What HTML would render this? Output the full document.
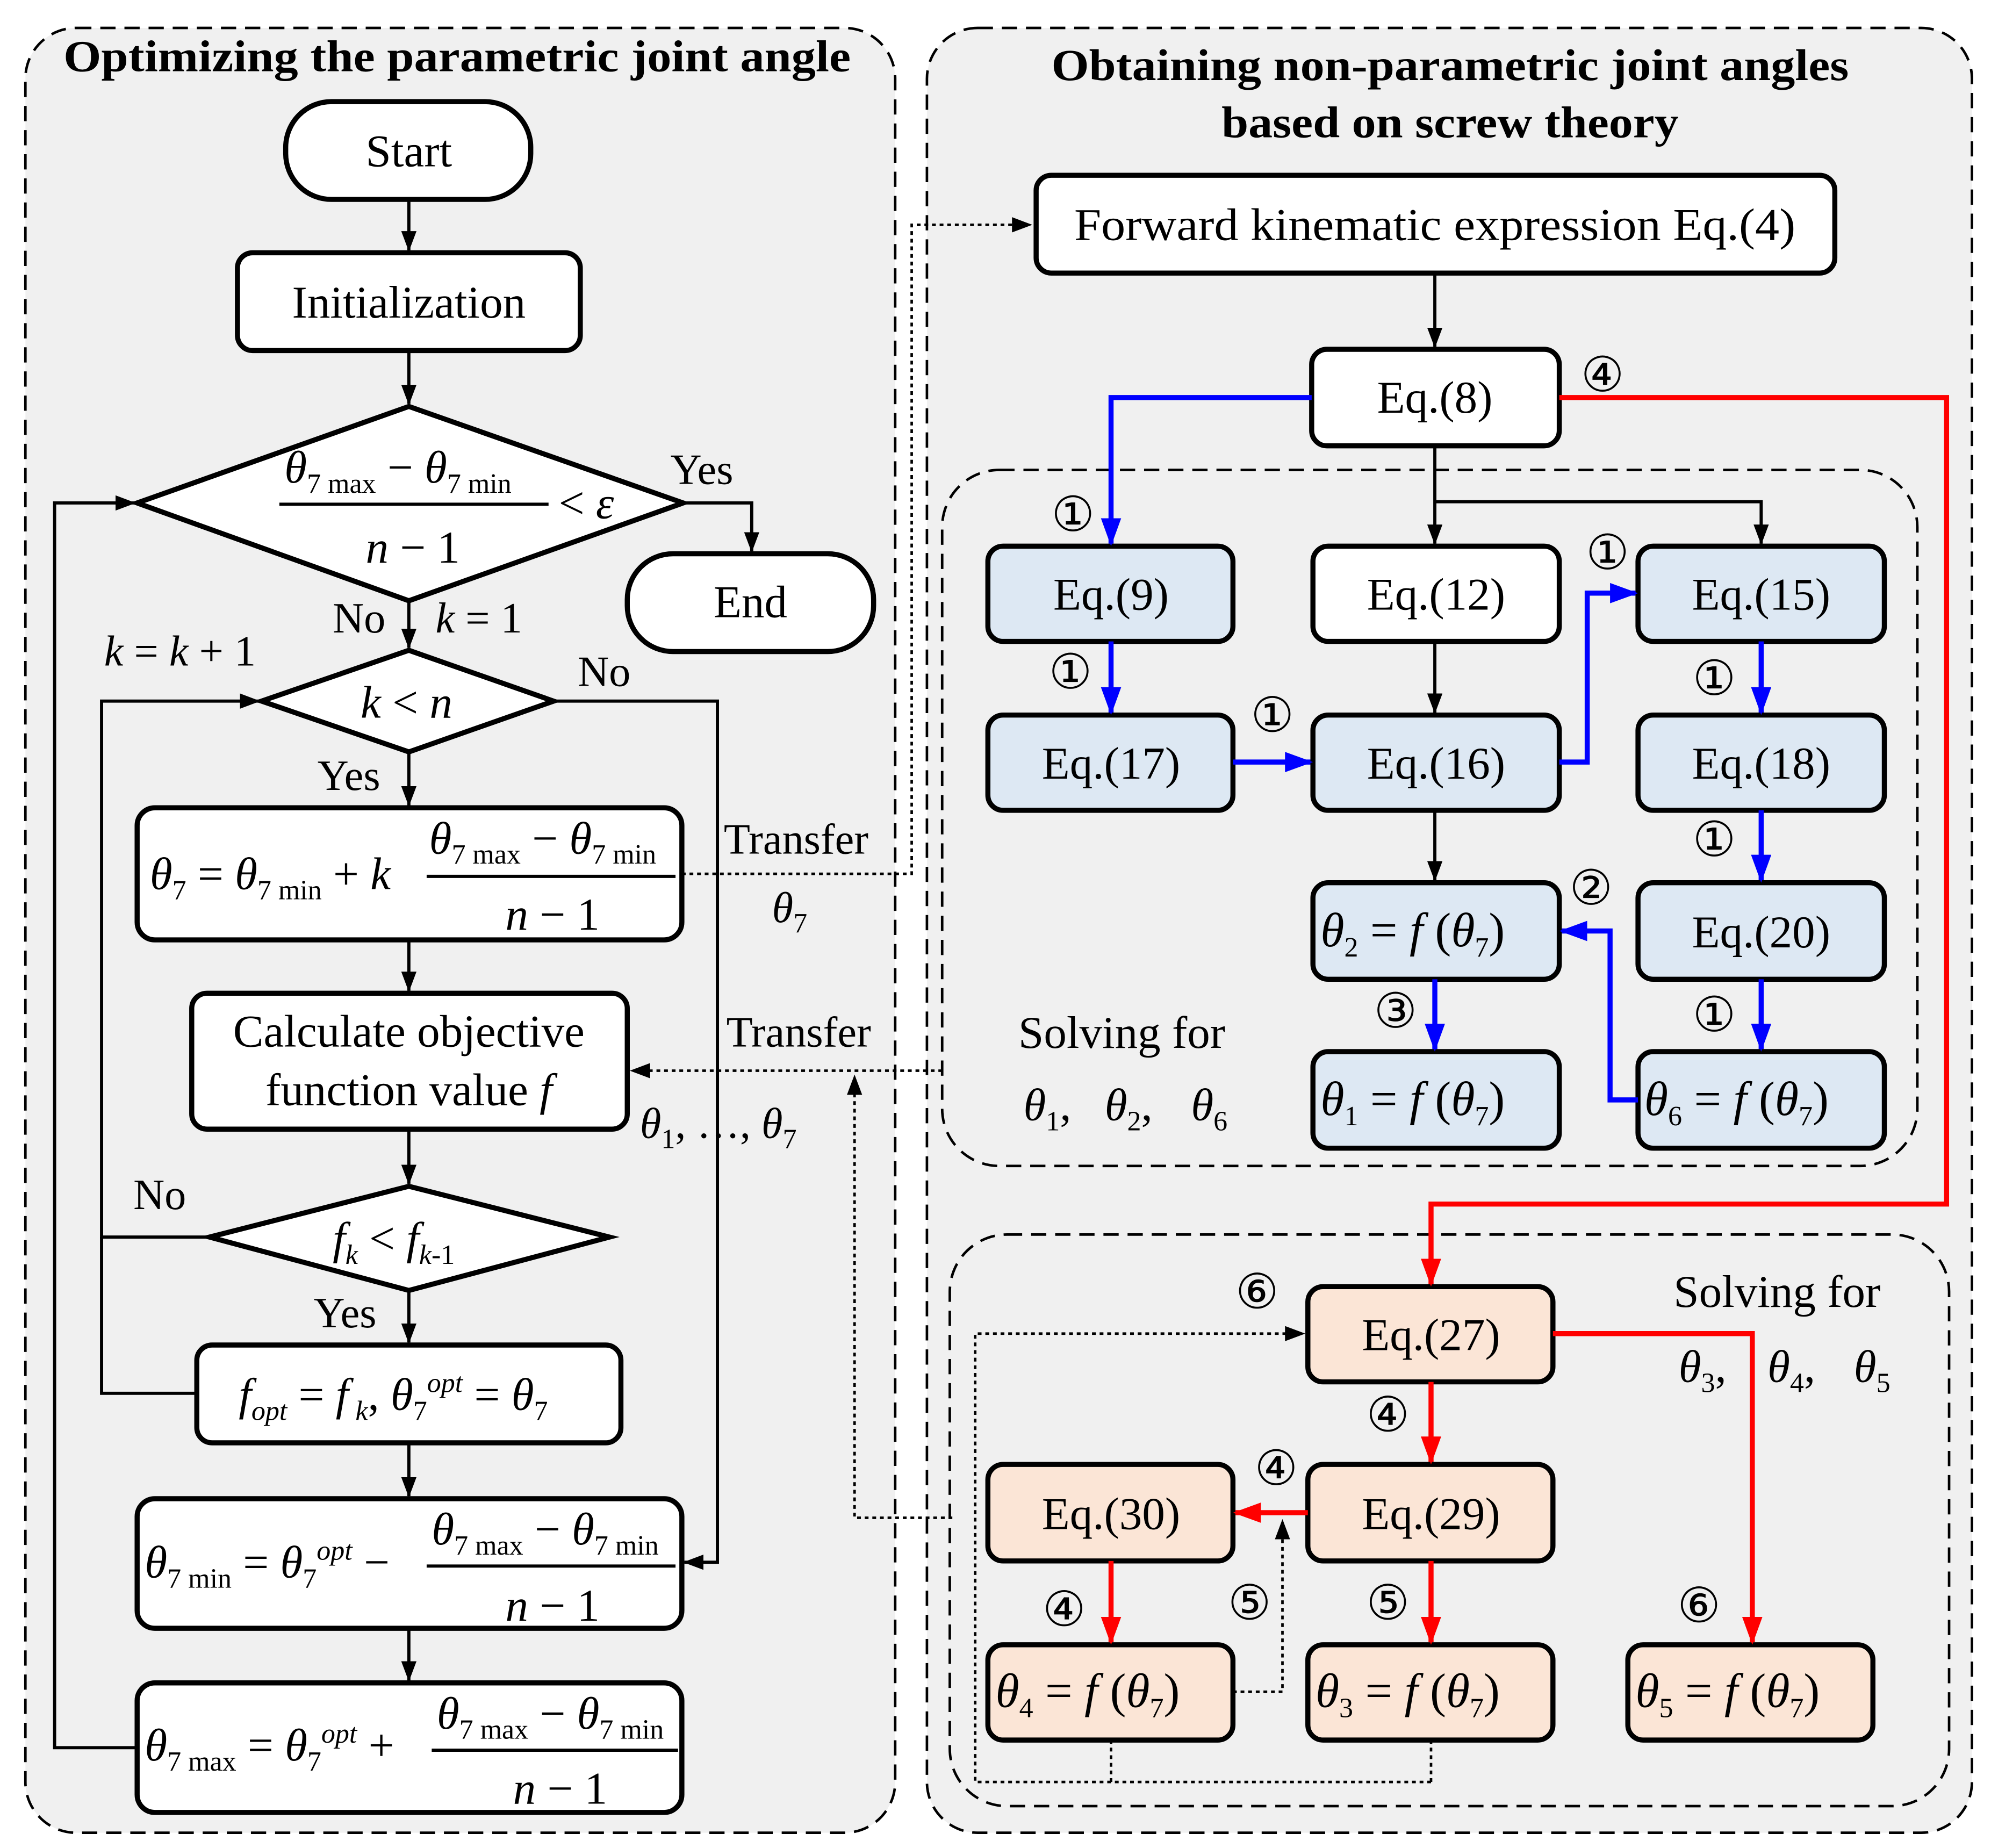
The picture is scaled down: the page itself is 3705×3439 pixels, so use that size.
<!DOCTYPE html>
<html><head><meta charset="utf-8"><style>
html,body{margin:0;padding:0;background:#fff}
svg{display:block}
text{font-family:"Liberation Serif","DejaVu Serif",serif;fill:#000}
.it{font-style:italic}
.c{font-family:"Liberation Serif","DejaVu Sans",sans-serif}
</style></head><body>
<svg width="3705" height="3439" viewBox="0 0 1568 1455" preserveAspectRatio="none" xmlns="http://www.w3.org/2000/svg">
<defs>
<marker id="ab" markerWidth="22" markerHeight="16" refX="20" refY="8" orient="auto" markerUnits="userSpaceOnUse"><path d="M0,0 L22,8 L0,16 z" fill="#00f"/></marker>
<marker id="ar" markerWidth="22" markerHeight="16" refX="20" refY="8" orient="auto" markerUnits="userSpaceOnUse"><path d="M0,0 L22,8 L0,16 z" fill="#f00"/></marker>
<marker id="a2" markerWidth="16" markerHeight="12" refX="15" refY="6" orient="auto" markerUnits="userSpaceOnUse"><path d="M0,0 L16,6 L0,12 z" fill="#000"/></marker>
</defs>
<rect width="1568" height="1455" fill="#fff"/>
<rect x="20" y="22" width="685" height="1421" rx="40" fill="#f0f0f0" stroke="#000" stroke-width="2" stroke-dasharray="12,7"/>
<rect x="730" y="22" width="823" height="1421" rx="40" fill="#f0f0f0" stroke="#000" stroke-width="2" stroke-dasharray="12,7"/>
<text x="50" y="56" font-size="35" font-weight="bold" textLength="620" lengthAdjust="spacingAndGlyphs">Optimizing the parametric joint angle</text>
<text x="828" y="63" font-size="35" font-weight="bold" textLength="628" lengthAdjust="spacingAndGlyphs">Obtaining non-parametric joint angles</text>
<text x="962" y="108" font-size="35" font-weight="bold" textLength="360" lengthAdjust="spacingAndGlyphs">based on screw theory</text>

<g stroke="#000" stroke-width="4" fill="#fff">
<rect x="225" y="80" width="193" height="77" rx="36"/>
<rect x="187" y="199" width="270" height="77" rx="12"/>
<polygon points="108,396 322,320 538,396 322,473"/>
<rect x="494" y="436" width="194" height="77" rx="36"/>
<polygon points="206,552 322,512 436,552 322,592"/>
<rect x="108" y="636" width="429" height="104" rx="14"/>
<rect x="151" y="782" width="343" height="107" rx="12"/>
<polygon points="165,974 322,934 480,974 322,1016"/>
<rect x="155" y="1059" width="334" height="77" rx="12"/>
<rect x="108" y="1180" width="429" height="102" rx="14"/>
<rect x="108" y="1325" width="429" height="102" rx="14"/>
</g>
<g font-size="36" text-anchor="middle">
<text x="322" y="131">Start</text>
<text x="322" y="250">Initialization</text>
<text x="591" y="486">End</text>
<text x="322" y="824">Calculate objective</text>
<text x="322" y="870">function value <tspan class="it">f</tspan></text>
</g>
<g font-size="36">
<text x="224" y="380" class="it">θ<tspan font-size="22" dy="8" font-style="normal">7 max</tspan><tspan dy="-8" font-style="normal"> − </tspan>θ<tspan font-size="22" dy="8" font-style="normal">7 min</tspan></text>
<line x1="220" y1="397" x2="432" y2="397" stroke="#000" stroke-width="2.5"/>
<text x="288" y="443" class="it">n<tspan font-style="normal"> − 1</tspan></text>
<text x="440" y="408" font-style="normal">&lt; <tspan class="it">ε</tspan></text>
<text x="284" y="565" class="it">k<tspan font-style="normal"> &lt; </tspan>n</text>
<text x="262" y="987" class="it">f<tspan font-size="22" dy="8">k</tspan><tspan dy="-8" font-style="normal"> &lt; </tspan>f<tspan font-size="22" dy="8">k</tspan><tspan font-size="22" font-style="normal">-1</tspan></text>
</g>
<g font-size="36">
<text x="118" y="700" class="it">θ<tspan font-size="22" dy="8" font-style="normal">7</tspan><tspan dy="-8" font-style="normal"> = </tspan>θ<tspan font-size="22" dy="8" font-style="normal">7 min</tspan><tspan dy="-8" font-style="normal"> + </tspan>k</text>
<text x="338" y="672" class="it">θ<tspan font-size="22" dy="8" font-style="normal">7 max</tspan><tspan dy="-8" font-style="normal"> − </tspan>θ<tspan font-size="22" dy="8" font-style="normal">7 min</tspan></text>
<line x1="336" y1="690" x2="532" y2="690" stroke="#000" stroke-width="2.5"/>
<text x="398" y="732" class="it">n<tspan font-style="normal"> − 1</tspan></text>

<text x="188" y="1110" class="it">f<tspan font-size="22" dy="8">opt</tspan><tspan dy="-8" font-style="normal"> = </tspan>f<tspan font-size="22" dy="8"> k</tspan><tspan dy="-8" font-style="normal">, </tspan>θ<tspan font-size="22" dy="8" font-style="normal">7</tspan><tspan font-size="22" dy="-22">opt</tspan><tspan dy="14" font-style="normal"> = </tspan>θ<tspan font-size="22" dy="8" font-style="normal">7</tspan></text>

<text x="114" y="1242" class="it">θ<tspan font-size="22" dy="8" font-style="normal">7 min</tspan><tspan dy="-8" font-style="normal"> = </tspan>θ<tspan font-size="22" dy="8" font-style="normal">7</tspan><tspan font-size="22" dy="-22">opt</tspan><tspan dy="14" font-style="normal"> − </tspan></text>
<text x="340" y="1216" class="it">θ<tspan font-size="22" dy="8" font-style="normal">7 max</tspan><tspan dy="-8" font-style="normal"> − </tspan>θ<tspan font-size="22" dy="8" font-style="normal">7 min</tspan></text>
<line x1="336" y1="1233" x2="532" y2="1233" stroke="#000" stroke-width="2.5"/>
<text x="398" y="1276" class="it">n<tspan font-style="normal"> − 1</tspan></text>

<text x="114" y="1386" class="it">θ<tspan font-size="22" dy="8" font-style="normal">7 max</tspan><tspan dy="-8" font-style="normal"> = </tspan>θ<tspan font-size="22" dy="8" font-style="normal">7</tspan><tspan font-size="22" dy="-22">opt</tspan><tspan dy="14" font-style="normal"> + </tspan></text>
<text x="344" y="1361" class="it">θ<tspan font-size="22" dy="8" font-style="normal">7 max</tspan><tspan dy="-8" font-style="normal"> − </tspan>θ<tspan font-size="22" dy="8" font-style="normal">7 min</tspan></text>
<line x1="340" y1="1378" x2="534" y2="1378" stroke="#000" stroke-width="2.5"/>
<text x="404" y="1420" class="it">n<tspan font-style="normal"> − 1</tspan></text>
</g>
<g font-size="34">
<text x="528" y="381">Yes</text>
<text x="262" y="498">No</text>
<text x="343" y="498" class="it">k<tspan font-style="normal"> = 1</tspan></text>
<text x="82" y="524" class="it">k<tspan font-style="normal"> = </tspan>k<tspan font-style="normal"> + 1</tspan></text>
<text x="455" y="540">No</text>
<text x="250" y="622">Yes</text>
<text x="105" y="952">No</text>
<text x="247" y="1045">Yes</text>
<text x="570" y="672">Transfer</text>
<text x="608" y="726" class="it">θ<tspan font-size="22" dy="8" font-style="normal">7</tspan></text>
<text x="572" y="824">Transfer</text>
<text x="504" y="896" class="it">θ<tspan font-size="22" dy="8" font-style="normal">1</tspan><tspan dy="-8" font-style="normal">,  …,  </tspan>θ<tspan font-size="22" dy="8" font-style="normal">7</tspan></text>
</g>
<g stroke="#000" stroke-width="2.5" fill="none" marker-end="url(#a2)">
<line x1="322" y1="157" x2="322" y2="197"/>
<line x1="322" y1="276" x2="322" y2="318"/>
<polyline points="538,396 592,396 592,434"/>
<line x1="322" y1="473" x2="322" y2="510"/>
<line x1="322" y1="592" x2="322" y2="634"/>
<polyline points="436,552 565,552 565,1230 539,1230"/>
<line x1="322" y1="740" x2="322" y2="780"/>
<line x1="322" y1="889" x2="322" y2="932"/>
<polyline points="165,974 80,974 80,552 204,552"/>
<line x1="322" y1="1016" x2="322" y2="1057"/>
<line x1="322" y1="1136" x2="322" y2="1178"/>
<line x1="322" y1="1282" x2="322" y2="1323"/>
<polyline points="108,1376 43,1376 43,396 106,396"/>
</g>
<polyline points="155,1097 80,1097 80,974" stroke="#000" stroke-width="2.5" fill="none"/>
<g stroke="#000" stroke-width="2" fill="none" stroke-dasharray="3,3">
<polyline points="537,688 718,688 718,177 812,177" marker-end="url(#a2)"/>
<line x1="742" y1="843" x2="497" y2="843" marker-end="url(#a2)"/>
<polyline points="750,1195 673,1195 673,847" marker-end="url(#a2)"/>
</g>

<rect x="742" y="370" width="768" height="548" rx="45" fill="none" stroke="#000" stroke-width="2" stroke-dasharray="12,7"/>
<rect x="748" y="972" width="787" height="450" rx="45" fill="none" stroke="#000" stroke-width="2" stroke-dasharray="12,7"/>

<g stroke="#000" stroke-width="4">
<rect x="816" y="138" width="629" height="77" rx="12" fill="#fff"/>
<rect x="1033" y="275" width="195" height="76" rx="12" fill="#fff"/>
<rect x="778" y="430" width="193" height="75" rx="12" fill="#dde8f3"/>
<rect x="1034" y="430" width="194" height="75" rx="12" fill="#fff"/>
<rect x="1290" y="430" width="194" height="75" rx="12" fill="#dde8f3"/>
<rect x="778" y="563" width="193" height="75" rx="12" fill="#dde8f3"/>
<rect x="1034" y="563" width="194" height="75" rx="12" fill="#dde8f3"/>
<rect x="1290" y="563" width="194" height="75" rx="12" fill="#dde8f3"/>
<rect x="1034" y="695" width="194" height="76" rx="12" fill="#dde8f3"/>
<rect x="1290" y="695" width="194" height="76" rx="12" fill="#dde8f3"/>
<rect x="1034" y="828" width="194" height="76" rx="12" fill="#dde8f3"/>
<rect x="1290" y="828" width="194" height="76" rx="12" fill="#dde8f3"/>
<rect x="1030" y="1013" width="193" height="75" rx="12" fill="#fbe5d6"/>
<rect x="1030" y="1153" width="193" height="76" rx="12" fill="#fbe5d6"/>
<rect x="778" y="1153" width="193" height="76" rx="12" fill="#fbe5d6"/>
<rect x="778" y="1295" width="193" height="75" rx="12" fill="#fbe5d6"/>
<rect x="1030" y="1295" width="193" height="75" rx="12" fill="#fbe5d6"/>
<rect x="1282" y="1295" width="193" height="75" rx="12" fill="#fbe5d6"/>
</g>
<g font-size="36" text-anchor="middle">
<text x="1130" y="189" textLength="568" lengthAdjust="spacingAndGlyphs">Forward kinematic expression Eq.(4)</text>
<text x="1130" y="325">Eq.(8)</text>
<text x="875" y="480">Eq.(9)</text>
<text x="1131" y="480">Eq.(12)</text>
<text x="1387" y="480">Eq.(15)</text>
<text x="875" y="613">Eq.(17)</text>
<text x="1131" y="613">Eq.(16)</text>
<text x="1387" y="613">Eq.(18)</text>
<text x="1387" y="746">Eq.(20)</text>
<text x="1127" y="1063">Eq.(27)</text>
<text x="1127" y="1204">Eq.(29)</text>
<text x="875" y="1204">Eq.(30)</text>
</g>
<g font-size="38">
<text x="1040" y="745" class="it">θ<tspan font-size="22" dy="8" font-style="normal">2</tspan><tspan dy="-8" font-style="normal"> = </tspan>f<tspan font-style="normal"> (</tspan>θ<tspan font-size="22" dy="8" font-style="normal">7</tspan><tspan dy="-8" font-style="normal">)</tspan></text>
<text x="1040" y="878" class="it">θ<tspan font-size="22" dy="8" font-style="normal">1</tspan><tspan dy="-8" font-style="normal"> = </tspan>f<tspan font-style="normal"> (</tspan>θ<tspan font-size="22" dy="8" font-style="normal">7</tspan><tspan dy="-8" font-style="normal">)</tspan></text>
<text x="1295" y="878" class="it">θ<tspan font-size="22" dy="8" font-style="normal">6</tspan><tspan dy="-8" font-style="normal"> = </tspan>f<tspan font-style="normal"> (</tspan>θ<tspan font-size="22" dy="8" font-style="normal">7</tspan><tspan dy="-8" font-style="normal">)</tspan></text>
<text x="784" y="1344" class="it">θ<tspan font-size="22" dy="8" font-style="normal">4</tspan><tspan dy="-8" font-style="normal"> = </tspan>f<tspan font-style="normal"> (</tspan>θ<tspan font-size="22" dy="8" font-style="normal">7</tspan><tspan dy="-8" font-style="normal">)</tspan></text>
<text x="1036" y="1344" class="it">θ<tspan font-size="22" dy="8" font-style="normal">3</tspan><tspan dy="-8" font-style="normal"> = </tspan>f<tspan font-style="normal"> (</tspan>θ<tspan font-size="22" dy="8" font-style="normal">7</tspan><tspan dy="-8" font-style="normal">)</tspan></text>
<text x="1288" y="1344" class="it">θ<tspan font-size="22" dy="8" font-style="normal">5</tspan><tspan dy="-8" font-style="normal"> = </tspan>f<tspan font-style="normal"> (</tspan>θ<tspan font-size="22" dy="8" font-style="normal">7</tspan><tspan dy="-8" font-style="normal">)</tspan></text>
</g>
<g font-size="36">
<text x="802" y="825">Solving for</text>
<text x="806" y="882" class="it">θ<tspan font-size="22" dy="8" font-style="normal">1</tspan><tspan dy="-8" font-style="normal">,   </tspan><tspan x="870">θ</tspan><tspan font-size="22" dy="8" font-style="normal">2</tspan><tspan dy="-8" font-style="normal">,   </tspan><tspan x="938">θ</tspan><tspan font-size="22" dy="8" font-style="normal">6</tspan></text>
<text x="1318" y="1029">Solving for</text>
<text x="1322" y="1088" class="it">θ<tspan font-size="22" dy="8" font-style="normal">3</tspan><tspan dy="-8" font-style="normal">,</tspan><tspan x="1392">θ</tspan><tspan font-size="22" dy="8" font-style="normal">4</tspan><tspan dy="-8" font-style="normal">,</tspan><tspan x="1460">θ</tspan><tspan font-size="22" dy="8" font-style="normal">5</tspan></text>
</g>
<g font-size="38" class="c" text-anchor="middle">
<text x="1262" y="308">④</text>
<text x="845" y="418">①</text>
<text x="843" y="542">①</text>
<text x="1002" y="576">①</text>
<text x="1266" y="448">①</text>
<text x="1350" y="547">①</text>
<text x="1350" y="674">①</text>
<text x="1350" y="812">①</text>
<text x="1253" y="712">②</text>
<text x="1099" y="809">③</text>
<text x="990" y="1030">⑥</text>
<text x="1093" y="1127">④</text>
<text x="1005" y="1169">④</text>
<text x="838" y="1280">④</text>
<text x="984" y="1275">⑤</text>
<text x="1093" y="1275">⑤</text>
<text x="1338" y="1277">⑥</text>
</g>
<g stroke="#000" stroke-width="2.5" fill="none" marker-end="url(#a2)">
<line x1="1130" y1="215" x2="1130" y2="273"/>
<line x1="1130" y1="351" x2="1130" y2="428"/>
<polyline points="1130,395 1387,395 1387,428"/>
<line x1="1130" y1="505" x2="1130" y2="561"/>
<line x1="1130" y1="638" x2="1130" y2="693"/>
</g>
<g stroke="#00f" stroke-width="4" fill="none" marker-end="url(#ab)">
<polyline points="1033,313 875,313 875,428"/>
<line x1="875" y1="505" x2="875" y2="561"/>
<line x1="971" y1="600" x2="1032" y2="600"/>
<polyline points="1228,600 1250,600 1250,467 1288,467"/>
<line x1="1387" y1="505" x2="1387" y2="561"/>
<line x1="1387" y1="638" x2="1387" y2="693"/>
<line x1="1130" y1="771" x2="1130" y2="826"/>
<line x1="1387" y1="771" x2="1387" y2="826"/>
<polyline points="1290,866 1268,866 1268,733 1230,733"/>
</g>
<g stroke="#f00" stroke-width="4" fill="none" marker-end="url(#ar)">
<polyline points="1228,313 1533,313 1533,948 1127,948 1127,1011"/>
<line x1="1127" y1="1088" x2="1127" y2="1151"/>
<line x1="1030" y1="1191" x2="973" y2="1191"/>
<line x1="875" y1="1229" x2="875" y2="1293"/>
<line x1="1127" y1="1229" x2="1127" y2="1293"/>
<polyline points="1223,1050 1380,1050 1380,1293"/>
</g>
<g stroke="#000" stroke-width="2" fill="none" stroke-dasharray="3,3">
<polyline points="971,1332 1010,1332 1010,1197" marker-end="url(#a2)"/>
<line x1="875" y1="1370" x2="875" y2="1403"/>
<line x1="1127" y1="1370" x2="1127" y2="1403"/>
<polyline points="1127,1403 768,1403 768,1050 1027,1050" marker-end="url(#a2)"/>
</g>
</svg>
</body></html>
